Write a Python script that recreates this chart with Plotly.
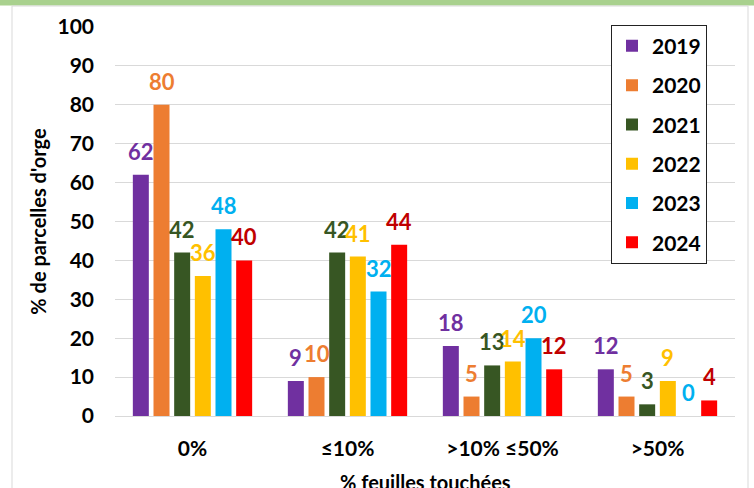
import plotly.graph_objects as go

# Share of barley plots by class of affected leaves, per year
categories = ["0%", "≤10%", ">10% ≤50%", ">50%"]
years = ["2019", "2020", "2021", "2022", "2023", "2024"]
values = {
    "2019": [62, 9, 18, 12],
    "2020": [80, 10, 5, 5],
    "2021": [42, 42, 13, 3],
    "2022": [36, 41, 14, 9],
    "2023": [48, 32, 20, 0],
    "2024": [40, 44, 12, 4],
}
bar_colors = ["#7030A0", "#ED7D31", "#375623", "#FFC000", "#00B0F0", "#FF0000"]
label_colors = ["#7030A0", "#ED7D31", "#375623", "#FFC000", "#00B0F0", "#C00000"]
y_ticks = [0, 10, 20, 30, 40, 50, 60, 70, 80, 90, 100]
x_title = "% feuilles touchées"
y_title = "% de parcelles d'orge"

W, H = 754, 488
ML, MR, MT, MB = 115, 19, 27, 72
PW, PH = W - ML - MR, H - MT - MB
BARGAP = 0.2
FONT = "Lato"

fig = go.Figure()
for i, yr in enumerate(years):
    fig.add_trace(go.Bar(
        x=categories, y=values[yr], name=yr,
        marker=dict(color=bar_colors[i], line=dict(width=0)),
        legendgroup=yr,
    ))


def px_x(p):
    return (p - ML) / PW


def px_y(p):
    return (H - MB - p) / PH


# value labels above each bar
cat_w = PW / len(categories)
slot = cat_w * (1 - BARGAP) / len(years)
annotations = []
for i, yr in enumerate(years):
    for c, v in zip(categories, values[yr]):
        annotations.append(dict(
            x=c, y=v, xref="x", yref="y", text=str(v), showarrow=False,
            xanchor="center", yanchor="bottom",
            xshift=(i - (len(years) - 1) / 2) * slot, yshift=8,
            font=dict(family=FONT, size=22, color=label_colors[i], weight=700),
        ))

# x-axis title sits right at the bottom edge of the figure
annotations.append(dict(
    x=0.5, y=px_y(482), xref="paper", yref="paper", text=x_title, showarrow=False,
    xanchor="center", yanchor="middle",
    font=dict(family=FONT, size=20, color="black", weight=700),
))

shapes = [
    # green band along the top edge
    dict(type="rect", xref="paper", yref="paper", x0=px_x(0), x1=px_x(W),
         y0=px_y(5.5), y1=px_y(0), fillcolor="#A9D18E", line=dict(width=0), layer="below"),
    # light chart frame
    dict(type="rect", xref="paper", yref="paper", x0=px_x(12), x1=px_x(748),
         y0=px_y(H + 5), y1=px_y(6), fillcolor="rgba(0,0,0,0)",
         line=dict(color="#D9D9D9", width=1), layer="below"),
]

fig.update_layout(
    width=W, height=H,
    margin=dict(l=ML, r=MR, t=MT, b=MB, autoexpand=False),
    paper_bgcolor="white", plot_bgcolor="white",
    barmode="group", bargap=BARGAP, bargroupgap=0.226,
    font=dict(family=FONT, color="black"),
    annotations=annotations, shapes=shapes,
    legend=dict(
        x=px_x(611), y=px_y(24.7), xanchor="left", yanchor="top",
        bordercolor="#222222", borderwidth=1, bgcolor="white",
        font=dict(family=FONT, size=21, color="black", weight=700),
        tracegroupgap=9, traceorder="grouped",
    ),
    showlegend=True,
)
fig.update_yaxes(
    range=[0, 100], tickvals=y_ticks, showgrid=True, gridcolor="#D9D9D9", gridwidth=1,
    zeroline=False, showline=False, ticks="", ticklabelstandoff=20, automargin=False,
    tickfont=dict(family=FONT, size=21, color="black", weight=700),
    title=dict(text=y_title, standoff=5,
               font=dict(family=FONT, size=20, color="black", weight=700)),
)
fig.update_xaxes(
    showgrid=False, zeroline=False, showline=True, linecolor="#D9D9D9", linewidth=1,
    ticks="", ticklabelstandoff=14, automargin=False,
    tickfont=dict(family=FONT, size=21, color="black", weight=700),
)

fig.write_html("out.html")
